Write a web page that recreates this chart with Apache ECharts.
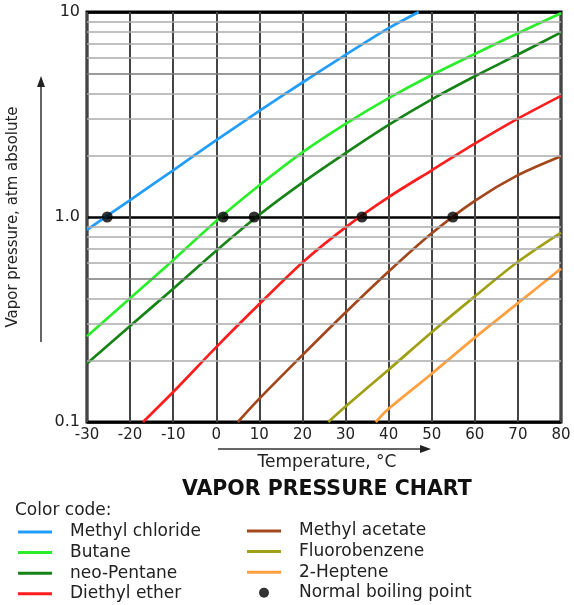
<!DOCTYPE html>
<html>
<head>
<meta charset="utf-8">
<script src="https://cdn.jsdelivr.net/npm/echarts@6/dist/echarts.min.js"></script>
<style>
html,body{margin:0;padding:0;background:#fff;}
#chart{width:574px;height:605px;}
</style>
</head>
<body>
<div id="chart"></div>
<script>
// ---- data ----
const seriesNames = ['Methyl chloride','Butane','neo-Pentane','Diethyl ether','Methyl acetate','Fluorobenzene','2-Heptene'];
const seriesColors = ['#239dfb','#2bee2b','#178417','#ff1e1e','#a4471c','#a0a014','#ffa040'];

const methylChlorideT = [-30,-20,-10,0,10,20,30,40,47];
const methylChlorideP = [0.866,1.21,1.69,2.37,3.29,4.53,6.18,8.34,10];

const butaneT = [-30,-20,-10,0,10,20,30,40,50,60,70,80];
const butaneP = [0.262,0.401,0.616,0.957,1.428,2.067,2.846,3.80,4.93,6.24,7.88,9.85];

const neoPentaneT = [-30,-20,-10,0,10,20,30,40,50,60,70,80];
const neoPentaneP = [0.193,0.294,0.447,0.685,1.025,1.47,2.05,2.815,3.75,4.86,6.2,7.95];

const diethylEtherT = [-17,-10,0,10,20,30,40,50,60,70,80];
const diethylEtherP = [0.1,0.14,0.232,0.376,0.6,0.89,1.25,1.69,2.28,3.02,3.9];

const methylAcetateT = [5,10,20,30,40,50,60,70,80];
const methylAcetateP = [0.1,0.130,0.212,0.342,0.542,0.833,1.20,1.60,1.98];

const fluorobenzeneT = [26,30,40,50,60,70,80];
const fluorobenzeneP = [0.1,0.119,0.18,0.274,0.41,0.605,0.84];

const heptene2T = [37,40,50,60,70,80];
const heptene2P = [0.1,0.116,0.172,0.258,0.38,0.56];

const boilingPointName = 'Normal boiling point';
const boilingPointT = [-25.3,1.6,8.8,33.8,54.9];
const boilingPointP = [1,1,1,1,1];

const xMin = -30, xMax = 80, xInterval = 10;
const yTickValues = [0.1,1,10];
const yTickLabels = ['0.1','1.0','10'];
const minorGridP = [0.2,0.3,0.4,0.5,0.6,0.7,0.8,0.9,2,3,4,5,6,7,8,9];
const darkMinorP = [0.5,5];

const titleText = 'VAPOR PRESSURE CHART';
const xName = 'Temperature, °C';
const yName = 'Vapor pressure, atm absolute';
const colorCodeText = 'Color code:';

// ---- build ----
const allT = [methylChlorideT,butaneT,neoPentaneT,diethylEtherT,methylAcetateT,fluorobenzeneT,heptene2T];
const allP = [methylChlorideP,butaneP,neoPentaneP,diethylEtherP,methylAcetateP,fluorobenzeneP,heptene2P];
const pair = (T,P) => T.map((t,i) => [t,P[i]]);

const FONT = 'DejaVu Sans';
const TXT = '#222';
const LINE_ICON = 'path://M0 0H34V3H0Z';

const series = [];
series.push({
  type:'line', name:'_grid', data:[], z:1, silent:true,
  markLine:{
    silent:true, symbol:['none','none'], animation:false,
    label:{show:false},
    data: minorGridP.map(v => ({yAxis:v, lineStyle:{color: darkMinorP.includes(v) ? '#7a7a7a' : '#ababab', width:1.5, type:'solid'}}))
  }
});
seriesNames.forEach((n,i) => {
  series.push({
    type:'line', name:n, data:pair(allT[i],allP[i]),
    smooth:0.3, symbol:'none', z:3,
    lineStyle:{color:seriesColors[i], width:2.7},
    itemStyle:{color:seriesColors[i]}
  });
});
series.push({
  type:'scatter', name:boilingPointName, data:pair(boilingPointT,boilingPointP),
  symbol:'circle', symbolSize:11, z:5, itemStyle:{color:'#000'}
});

const legendCommon = {
  orient:'vertical', itemWidth:34, itemHeight:10, itemGap:3.6, padding:0, height:100,
  selectedMode:false,
  textStyle:{fontFamily:FONT, fontSize:17, color:TXT, padding:[0,0,0,13]}
};
const lineItem = n => ({name:n, icon:LINE_ICON});

const chart = echarts.init(document.getElementById('chart'), null, {renderer:'canvas'});
chart.setOption({
  animation:false,
  backgroundColor:'#fff',
  title:[
    {text:titleText, left:182, top:479, padding:0, textStyle:{fontFamily:FONT, fontSize:20.5, fontWeight:'bold', color:'#111'}},
    {text:colorCodeText, left:15, top:502, padding:0, textStyle:{fontFamily:FONT, fontSize:17, fontWeight:'normal', color:TXT}}
  ],
  legend:[
    Object.assign({}, legendCommon, {left:18, top:523.5, data:seriesNames.slice(0,4).map(lineItem)}),
    Object.assign({}, legendCommon, {left:247, top:522.5, data:seriesNames.slice(4).map(lineItem).concat([{name:boilingPointName, icon:'circle'}])})
  ],
  grid:{left:87, right:13, top:12, bottom:183, show:true, borderColor:'#000', borderWidth:3, backgroundColor:'#fff', outerBoundsMode:'none', containLabel:false},
  xAxis:{
    type:'value', min:xMin, max:xMax, interval:xInterval,
    name:xName, nameLocation:'middle', nameGap:32,
    nameTextStyle:{fontFamily:FONT, fontSize:17, color:TXT, padding:[0,0,0,6]},
    axisLine:{show:false}, axisTick:{show:false},
    axisLabel:{fontFamily:FONT, fontSize:15, color:TXT, margin:6},
    splitLine:{show:true, lineStyle:{color:'#444', width:2}}
  },
  yAxis:{
    type:'log', logBase:10, min:0.1, max:10,
    name:yName, nameLocation:'middle', nameGap:66, nameRotate:90,
    nameTextStyle:{fontFamily:FONT, fontSize:15, color:TXT},
    axisLine:{show:false}, axisTick:{show:false},
    axisLabel:{fontFamily:FONT, fontSize:16, color:TXT, margin:7,
      formatter: v => { const k = yTickValues.findIndex(t => Math.abs(t - v) < 1e-9); return k >= 0 ? yTickLabels[k] : ''; }},
    splitLine:{show:true, lineStyle:{color:'#000', width:2.5}}
  },
  graphic:[
    {type:'line', shape:{x1:41, y1:342, x2:41, y2:84}, style:{stroke:'#333', lineWidth:1.5}},
    {type:'polygon', shape:{points:[[41,76],[37,87],[45,87]]}, style:{fill:'#222'}},
    {type:'line', shape:{x1:218, y1:449, x2:422, y2:449}, style:{stroke:'#333', lineWidth:1.5}},
    {type:'polygon', shape:{points:[[431,449],[420,445],[420,453]]}, style:{fill:'#222'}}
  ],
  series: series
});
</script>
</body>
</html>
